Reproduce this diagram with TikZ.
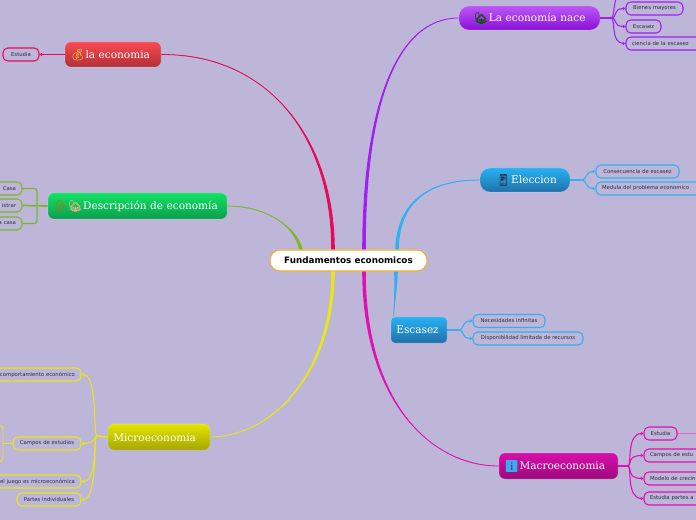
\documentclass[tikz,border=0pt]{standalone}
\usepackage{fontspec}
\setmainfont{DejaVu Sans}
\newfontfamily\slab{DejaVu Serif}
\newfontfamily\emo[FakeBold=.8]{Noto Emoji}
\usetikzlibrary{arrows.meta,calc}
\definecolor{bg}{HTML}{BDB6D9}
\definecolor{cred}{HTML}{E8085C}
\definecolor{cgreen}{HTML}{7FB52A}
\definecolor{cyel}{HTML}{E6E61A}
\definecolor{cpur}{HTML}{A020F0}
\definecolor{cblue}{HTML}{2FB0F0}
\definecolor{cmag}{HTML}{E010B0}
\definecolor{ink}{HTML}{2E2C44}
\definecolor{gold}{HTML}{F5C040}
\tikzset{
  mb/.style n args={2}{rectangle,rounded corners=4.5pt,inner xsep=4pt,inner ysep=0pt,
    text=white,font=\slab\fontsize{7.9}{9}\selectfont,align=left,
    minimum height=#2*.75pt,text width=#1*.75pt-8pt,draw=white,draw opacity=.18,line width=.5pt},
  sb/.style n args={3}{rectangle,draw=#3,rounded corners=3.6pt,line width=.8pt,
    inner xsep=4.5pt,inner ysep=0pt,text=ink,font=\fontsize{4}{5}\selectfont,
    minimum height=13*.75pt,text width=#1*.75pt-9pt,align=#2},
  stub/.style={line width=1.3pt},
  br/.style={line width=.8pt,-{Stealth[length=2.2pt,width=2.8pt]}},
}
\newcommand{\taper}[5]{%
  \fill[#5] ($#1+(-1.8,0)$) .. controls ($#2+(-1.5,0)$) and ($#3+(0,-.8)$) .. #4 .. controls ($#3+(0,.8)$) and ($#2+(1.5,0)$) .. ($#1+(1.8,0)$) -- cycle;
  \draw[#5,line width=.6pt] #1 .. controls #2 and #3 .. #4;}
\newcommand{\ico}[2]{{\emo\fontsize{8.6}{9}\selectfont\textcolor{#1}{#2}}}
\begin{document}
\begin{tikzpicture}[x=.75pt,y=-.75pt]
\useasboundingbox (0,0) rectangle (696,520);
\fill[bg] (0,0) rectangle (696,520);
\clip (0,0) rectangle (696,520);

% root
\node[rectangle,rounded corners=7.5pt,draw={rgb,255:red,240;green,176;blue,48},line width=.8pt,fill=white,
  minimum width=157*.75pt,minimum height=21*.75pt,inner sep=0pt,font=\bfseries\fontsize{6.6}{8}\selectfont,text=black] (root) at (348.5,260.5) {Fundamentos economicos};

% main topics
\node[mb={96}{25},top color={rgb,255:red,250;green,74;blue,82},bottom color={rgb,255:red,176;green,48;blue,56}] (econ) at (113,54.5) {\ico{gold}{💰}\hspace{.5pt}la economia};
\node[mb={179}{26},top color={rgb,255:red,18;green,226;blue,98},bottom color={rgb,255:red,10;green,158;blue,78}] (desc) at (137.5,206) {\ico{orange!80!black}{💁}\ico{brown!60!white}{🏡}\hspace{.5pt}Descripción de economía};
\node[mb={102}{26},top color={rgb,255:red,228;green,228;blue,0},bottom color={rgb,255:red,166;green,166;blue,0}] (micro) at (159,437) {Microeconomía};
\node[mb={141}{24},rounded corners=7.5pt,top color={rgb,255:red,188;green,88;blue,245},bottom color={rgb,255:red,136;green,16;blue,216}] (nace) at (529.5,18) {\hspace{7pt}\ico{green!35!black}{🏡}\hspace{.5pt}La economía nace};
\node[mb={90}{24},rounded corners=7.5pt,top color={rgb,255:red,40;green,176;blue,242},bottom color={rgb,255:red,32;green,112;blue,168}] (elec) at (525,180) {\hspace{8pt}\ico{ink}{📱}\hspace{.5pt}Eleccion};
\node[mb={56}{26},rounded corners=3pt,top color={rgb,255:red,40;green,176;blue,242},bottom color={rgb,255:red,32;green,112;blue,168}] (esc) at (419,330) {Escasez};
\node[mb={119}{26},top color={rgb,255:red,216;green,14;blue,170},bottom color={rgb,255:red,156;green,10;blue,124}] (mac) at (558.5,466) {\ico{cblue}{ℹ}\hspace{.5pt}Macroeconomia};

% main connectors
\coordinate (rRed) at ($(root.north)+(-15.5,0)$);
\coordinate (rGreen) at ($(root.north)+(-47.5,0)$);
\coordinate (rPur) at ($(root.north)+(15.5,0)$);
\coordinate (rBlue) at ($(root.north)+(48.5,0)$);
\coordinate (rYel) at ($(root.south)+(-15.5,0)$);
\coordinate (rMag) at ($(root.south)+(15.5,0)$);
\coordinate (rBl2) at ($(root.south)+(47.5,0)$);
\coordinate (escTop) at ($(esc.north west)+(3,0)$);
\taper{(rRed)}{(333,140)}{(270,54)}{(econ.east)}{cred}
\taper{(rGreen)}{(295,225)}{(265,206)}{(desc.east)}{cgreen}
\taper{(rYel)}{(333,370)}{(275,436)}{(micro.east)}{cyel}
\taper{(rPur)}{(364,110)}{(395,18)}{(nace.west)}{cpur}
\taper{(rBlue)}{(398,205)}{(425,180)}{(elec.west)}{cblue}
\taper{(rBl2)}{(396,290)}{(394,305)}{(escTop)}{cblue}
\taper{(rMag)}{(364,400)}{(430,466)}{(mac.west)}{cmag}

% la economia
\node[sb={36}{center}{cred}] (s1) at (21,54.5) {Estudia};
\draw[cred,br,line width=.9pt] (econ.west) -- (s1.east);

% descripcion
\node[sb={40}{right}{cgreen},fill=bg] (d1) at (2,188.5) {Casa};
\node[sb={40}{right}{cgreen},fill=bg] (d2) at (2,205.5) {istrar};
\node[sb={40}{right}{cgreen},fill=bg] (d3) at (2,223.5) {a casa};
\draw[cgreen,stub] (desc.west) -- (d2.east);
\draw[cgreen,line width=.9pt,rounded corners=2pt] (d1.east) -- (37,188.5) -- (37,223.5) -- (d3.east);

% micro
\node[sb={160}{right}{cyel}] (m1) at (1,374.5) {comportamiento económico};
\node[sb={68}{center}{cyel}] (m2) at (47,443.5) {Campos de estudios};
\node[sb={160}{right}{cyel}] (m3) at (1,481.5) {el juego es microeconómica};
\node[sb={64}{center}{cyel}] (m4) at (49,499.5) {Partes individuales};
\coordinate (mj) at (97,436);
\draw[cyel,stub] (micro.west) -- (mj);
\draw[cyel,br] (mj) .. controls (93,436) and (98,374.5) .. (m1.east);
\draw[cyel,br] (mj) .. controls (94,436) and (96,443.5) .. (m2.east);
\draw[cyel,br] (mj) .. controls (93,436) and (98,481.5) .. (m3.east);
\draw[cyel,br] (mj) .. controls (93,436) and (98,499.5) .. (m4.east);
\draw[cyel,line width=.7pt] (m2.west) -- ++(-10,0);
\draw[cyel,line width=.7pt,rounded corners=3pt] (-8,425) -- (3,425) -- (3,462) -- (-8,462);

% nace
\node[sb={57}{center}{cpur}] (n1) at (654.5,8.5) {Bienes mayores};
\node[sb={35}{center}{cpur}] (n2) at (643.5,26.5) {Escasez};
\node[sb={76}{left}{cpur}] (n3) at (664,43.5) {ciencia de la escasez};
\coordinate (nj) at (611,18);
\coordinate (nt) at (626,-10);
\draw[cpur,stub] (nace.east) -- (nj);
\draw[cpur,br] (nj) .. controls (618,18) and (612,8.5) .. (n1.west);
\draw[cpur,br] (nj) .. controls (618,18) and (612,26.5) .. (n2.west);
\draw[cpur,br] (nj) .. controls (616,18) and (610,43.5) .. (n3.west);
\draw[cpur,line width=.8pt] (nj) .. controls (616,18) and (611,-10) .. (nt);

% eleccion
\node[sb={83}{center}{cblue}] (e1) at (637.5,171.5) {Consecuencia de escasez};
\node[sb={106}{left}{cblue}] (e2) at (649,188.5) {Medula del problema economico};
\coordinate (ej) at (581,180);
\draw[cblue,stub] (elec.east) -- (ej);
\draw[cblue,br] (ej) .. controls (588,180) and (584,171.5) .. (e1.west);
\draw[cblue,br] (ej) .. controls (588,180) and (584,188.5) .. (e2.west);

% escasez
\node[sb={72}{center}{cblue}] (c1) at (509,321) {Necesidades infinitas};
\node[sb={110}{center}{cblue}] (c2) at (528,338.5) {Disponibilidad limitada de recursos};
\coordinate (cj) at (458,330);
\draw[cblue,stub] (esc.east) -- (cj);
\draw[cblue,br] (cj) .. controls (466,330) and (460,321) .. (c1.west);
\draw[cblue,br] (cj) .. controls (466,330) and (460,338.5) .. (c2.west);

% macro
\node[sb={33}{center}{cmag}] (a1) at (660.5,433.5) {Estudia};
\node[sb={80}{left}{cmag}] (a2) at (684,455.5) {Campos de estu};
\node[sb={80}{left}{cmag}] (a3) at (684,478.5) {Modelo de crecin};
\node[sb={80}{left}{cmag}] (a4) at (684,498.5) {Estudia partes a};
\coordinate (aj) at (628,466);
\coordinate (ax) at (700,433.5);
\draw[cmag,line width=.9pt] (mac.east) -- (aj);
\foreach \t/\y in {a1/433.5,a2/455.5,a3/478.5,a4/498.5}{
  \draw[cmag,br] (aj) .. controls (632,466) and (626,\y) .. (\t.west);}
\draw[cmag!65!white,line width=.7pt] (a1.east) -- (ax);
\end{tikzpicture}
\end{document}
